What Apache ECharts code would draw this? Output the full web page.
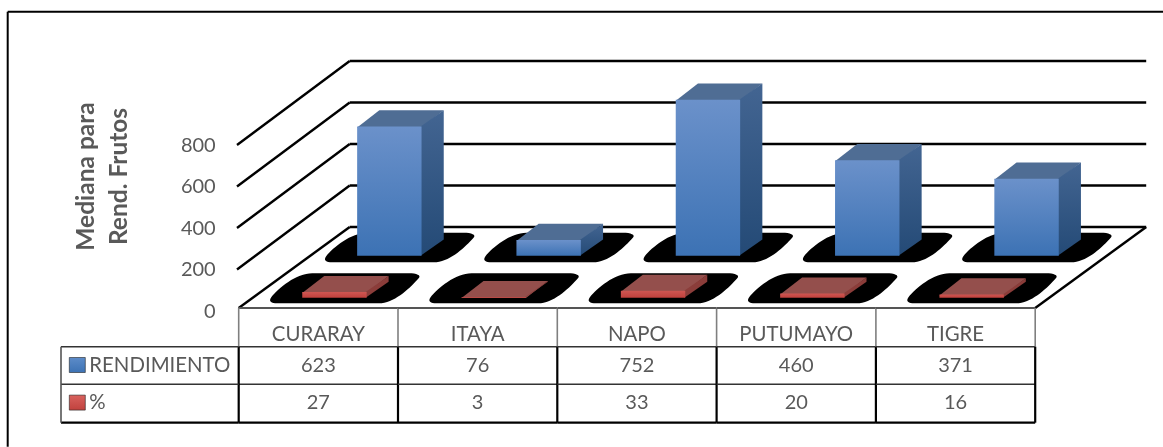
<!DOCTYPE html>
<html><head><meta charset="utf-8">
<style>html,body{margin:0;padding:0;background:#fff}#c{width:1163px;height:447px}</style>
<script src="https://cdn.jsdelivr.net/npm/echarts@6/dist/echarts.min.js"></script>
</head><body><div id="c"></div>
<script>
const categories = ['CURARAY', 'ITAYA', 'NAPO', 'PUTUMAYO', 'TIGRE'];
const rendimiento = [623, 76, 752, 460, 371];
const porcentaje = [27, 3, 33, 20, 16];
const ticks = [0, 200, 400, 600, 800];
const FONT = 'Lato, "Open Sans", sans-serif';
const TXT = '#595959';
const DX = 111, DY = 81;
const grad = (a, b) => new echarts.graphic.LinearGradient(0, 0, 0, 1, [{offset: 0, color: a}, {offset: 1, color: b}]);

function bar3d(api, frontDepth, backDepth, barW, colors, s) {
  const i = api.value(0), v = api.value(1);
  const base = api.coord([i, 0]), top = api.coord([i, v]);
  const fx = base[0] + DX * frontDepth - barW / 2 + s.shift, fy = base[1] - DY * frontDepth;
  const h = base[1] - top[1];
  const ddx = DX * (backDepth - frontDepth), ddy = DY * (backDepth - frontDepth);
  const L = fx, R = fx + barW, B = fy, T = fy - h;
  const poly = (pts, fill) => ({type: 'polygon', shape: {points: pts}, style: {fill}, silent: true});
  const yt = B - s.top, yb = B + s.bot;
  return {type: 'group', children: [
    {type: 'path', silent: true,
      shape: {pathData: `M${L+10} ${yt} L${R+42} ${yt} C${R+50} ${yt} ${R+55} ${yt+2} ${R+52} ${yt+5} C${R+44} ${yt+14} ${R+30} ${yb-2} ${R+15} ${yb} L${L-25} ${yb} C${L-31} ${yb} ${L-34} ${yb-2} ${L-31} ${yb-6} C${L-24} ${yb-15} ${L-6} ${yt} ${L+10} ${yt} Z`},
      style: {fill: '#000'}},
    poly([[L, T + 1], [R, T + 1], [R + ddx, T - ddy], [L + ddx, T - ddy]], colors.top),
    poly([[R - 1, T], [R + ddx, T - ddy], [R + ddx, B - ddy], [R - 1, B]], colors.side),
    poly([[L, T], [R, T], [R, B], [L, B]], colors.front)
  ]};
}

const BLUE = {top: '#4f6d94', side: grad('#436592', '#244a76'), front: grad('#6b91ca', '#3c72b4')};
const RED = {top: '#944f4c', side: '#8b3d3a', front: grad('#cf5652', '#c0413d')};
const blobBlue = {top: 23, bot: 6.6, shift: -0.6};
const blobRed = {top: 24.4, bot: 5.6, shift: 2};

const option = {
  animation: false,
  backgroundColor: '#fff',
  grid: {left: 238.7, top: 142, width: 796.5, height: 166},
  legend: {
    left: 69, top: 355, orient: 'vertical', itemWidth: 16, itemHeight: 15, itemGap: 17.6, icon: 'rect', padding: 0,
    itemStyle: {borderColor: '#222', borderWidth: 0.6},
    textStyle: {fontFamily: FONT, fontSize: 20.4, lineHeight: 20, color: TXT, padding: [0, 0, 0, -1]},
    selectedMode: false,
    data: [
      {name: 'RENDIMIENTO', itemStyle: {color: grad('#5d8cc9', '#3c72b4')}},
      {name: '%', itemStyle: {color: grad('#d9625e', '#c0413d')}}
    ]
  },
  xAxis: {type: 'category', data: categories, axisLine: {show: false}, axisTick: {show: false},
    axisLabel: {margin: 16, fontFamily: FONT, fontSize: 20.4, color: TXT}},
  yAxis: {type: 'value', min: 0, max: 800, interval: 200, splitLine: {show: false}, axisLine: {show: false}, axisTick: {show: false},
    axisLabel: {margin: 23, formatter: '{a|{value}}', rich: {a: {fontFamily: FONT, fontSize: 20, color: TXT, padding: [7, 0, 0, 0]}}}},
  graphic: [
    {type: 'line', silent: true, shape: {x1: 7.7, y1: 11.7, x2: 1163, y2: 11.7}, style: {stroke: '#000', lineWidth: 2}},
    {type: 'line', silent: true, shape: {x1: 7.7, y1: 11.7, x2: 7.7, y2: 446.7}, style: {stroke: '#000', lineWidth: 2}},
    {type: 'text', silent: true, x: 103, y: 176.5, rotation: Math.PI / 2,
      style: {text: 'Mediana para\nRend. Frutos', fontFamily: FONT, fontWeight: 'bold', fontSize: 24.5, lineHeight: 33, fill: TXT, align: 'center', verticalAlign: 'middle'}}
  ],
  series: [
    {type: 'custom', name: 'paredes', coordinateSystem: 'cartesian2d', data: ticks.map(t => [0, t]), encode: {x: 0, y: 1}, silent: true,
      renderItem(params, api) {
        const val = api.value(1);
        const y = api.coord([0, val])[1];
        const x0 = params.coordSys.x, x1 = x0 + params.coordSys.width;
        const st = {stroke: '#000', lineWidth: 2.4};
        const cut = val === 0 ? 0 : 3;
        const kids = [
          {type: 'line', shape: {x1: x0 - (val === 0 ? 0 : 1.7), y1: y + cut, x2: x0 + DX, y2: y - DY}, style: st},
          {type: 'line', shape: {x1: x0 + DX, y1: y - DY, x2: x1 + DX, y2: y - DY}, style: st}
        ];
        if (val === 0) kids.push({type: 'line', shape: {x1: x1, y1: y, x2: x1 + DX, y2: y - DY}, style: st});
        return {type: 'group', children: kids};
      }},
    {type: 'custom', name: 'RENDIMIENTO', coordinateSystem: 'cartesian2d', data: rendimiento.map((v, i) => [i, v]), encode: {x: 0, y: 1}, silent: true,
      itemStyle: {color: '#4f81bd'},
      renderItem(params, api) { return bar3d(api, 0.645, 0.845, 64.4, BLUE, blobBlue); }},
    {type: 'custom', name: '%', coordinateSystem: 'cartesian2d', data: porcentaje.map((v, i) => [i, v]), encode: {x: 0, y: 1}, silent: true,
      itemStyle: {color: '#c0504d'},
      renderItem(params, api) { return bar3d(api, 0.127, 0.325, 64.4, RED, blobRed); }},
    {type: 'custom', name: 'tabla', coordinateSystem: 'cartesian2d', data: categories.map((c, i) => [i, 0]), encode: {x: 0, y: 1}, silent: true, z: 3,
      renderItem(params, api) {
        const i = api.value(0);
        const c = api.coord([i, 0]), w = api.size([1, 0])[0];
        const y0 = c[1], y1 = y0 + 38.7, y2 = y1 + 37.6, y3 = y2 + 38.4;
        const xl = c[0] - w / 2, xr = c[0] + w / 2;
        const dark = {stroke: '#333', lineWidth: 1.6};
        const black = {stroke: '#000', lineWidth: 2.2};
        const grey = {stroke: '#7f7f7f', lineWidth: 1.6};
        const ln = (a, b, d, e, style) => ({type: 'line', shape: {x1: a, y1: b, x2: d, y2: e}, style});
        const txt = (t, y) => ({type: 'text', x: c[0], y, style: {text: String(t), fontFamily: FONT, fontSize: 20, fill: TXT, align: 'center', verticalAlign: 'middle'}});
        const kids = [
          ln(xl, y0, xr, y0, {stroke: '#555', lineWidth: 1.8}), ln(xl, y1, xr, y1, dark), ln(xl, y2, xr, y2, dark), ln(xl, y3, xr, y3, black),
          ln(xr, y0, xr, y1, grey), ln(xr, y1, xr, y3, black),
          txt(rendimiento[i], y1 + 18.5), txt(porcentaje[i], y2 + 18.5)
        ];
        if (i === 0) {
          const hx = 61;
          kids.push(ln(xl, y0, xl, y1, grey), ln(xl, y1, xl, y3, black),
            ln(hx, y1, xl, y1, dark), ln(hx, y2, xl, y2, dark), ln(hx, y3, xl, y3, black), ln(hx, y1, hx, y3, {stroke: '#555', lineWidth: 1.6}));
        }
        return {type: 'group', children: kids};
      }}
  ]
};
const chart = echarts.init(document.getElementById('c'), null, {renderer: 'canvas'});
chart.setOption(option);
</script></body></html>
